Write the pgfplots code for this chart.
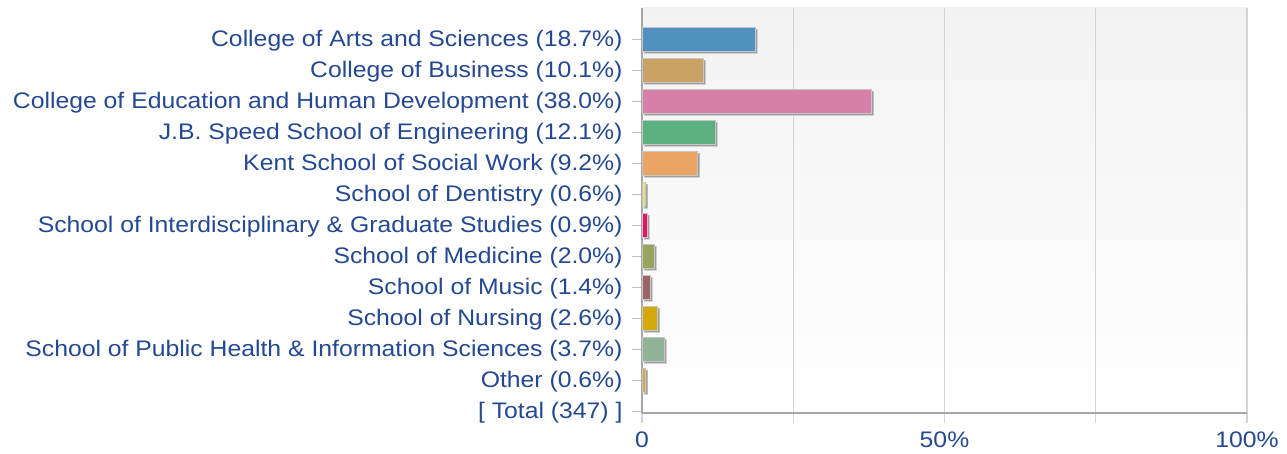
\documentclass[border=0pt]{standalone}
\usepackage{pgfplots}
\pgfplotsset{compat=1.18}
\usepackage{fontspec}
\setmainfont{Liberation Sans}[FakeStretch=1.10]
\usetikzlibrary{shadows}
\definecolor{lab}{RGB}{36,72,145}
\definecolor{c1}{RGB}{81,145,193}
\definecolor{c2}{RGB}{201,162,100}
\definecolor{c3}{RGB}{215,127,169}
\definecolor{c4}{RGB}{90,177,127}
\definecolor{c5}{RGB}{235,164,99}
\definecolor{c6}{RGB}{228,224,122}
\definecolor{c7}{RGB}{230,19,107}
\definecolor{c8}{RGB}{151,165,94}
\definecolor{c9}{RGB}{156,98,102}
\definecolor{c10}{RGB}{212,169,12}
\definecolor{c11}{RGB}{145,179,151}
\definecolor{c12}{RGB}{214,166,64}
\begin{document}
\begin{tikzpicture}
\useasboundingbox (-642pt,-41pt) rectangle (645pt,413pt);
\begin{axis}[
  at={(0,0)}, anchor=south west,
  scale only axis, width=605pt, height=405pt,
  xmin=0, xmax=100, ymin=-0.06, ymax=13,
  xbar, bar width=0.77, bar shift=0pt,
  axis x line=bottom, axis y line=left,
  axis line style={-, draw=black!35, line width=1.3pt},
  axis background/.style={top color=black!5, bottom color=white},
  xtick={0,25,50,75,100},
  xticklabels={0,,50\%,,100\%},
  xmajorgrids, grid style={draw=black!17, line width=1.3pt},
  xtick style={draw=black!17, line width=1.3pt},
  ytick={0,...,12},
  yticklabels={{[ Total (347) ]},
    {Other (0.6\%)},
    {School of Public Health \& Information Sciences (3.7\%)},
    {School of Nursing (2.6\%)},
    {School of Music (1.4\%)},
    {School of Medicine (2.0\%)},
    {School of Interdisciplinary \& Graduate Studies (0.9\%)},
    {School of Dentistry (0.6\%)},
    {Kent School of Social Work (9.2\%)},
    {J.B. Speed School of Engineering (12.1\%)},
    {College of Education and Human Development (38.0\%)},
    {College of Business (10.1\%)},
    {College of Arts and Sciences (18.7\%)}},
  ytick style={draw=black!25, line width=1pt},
  tick align=outside,
  major tick length=10pt,
  ticklabel style={font=\fontsize{22.5}{24}\selectfont, text=lab},
  yticklabel style={xshift=-6pt, yshift=-2pt},
  xticklabel style={yshift=-5pt},
  every axis plot/.append style={draw=white!55!gray, line width=0.8pt,
    drop shadow={shadow xshift=2pt, shadow yshift=-2pt, fill=black!50, opacity=0.75}},
]
\addplot[fill=c1]  coordinates {(18.7,12)};
\addplot[fill=c2]  coordinates {(10.1,11)};
\addplot[fill=c3]  coordinates {(38.0,10)};
\addplot[fill=c4]  coordinates {(12.1,9)};
\addplot[fill=c5]  coordinates {(9.2,8)};
\addplot[fill=c6]  coordinates {(0.6,7)};
\addplot[fill=c7]  coordinates {(0.9,6)};
\addplot[fill=c8]  coordinates {(2.0,5)};
\addplot[fill=c9]  coordinates {(1.4,4)};
\addplot[fill=c10] coordinates {(2.6,3)};
\addplot[fill=c11] coordinates {(3.7,2)};
\addplot[fill=c12] coordinates {(0.6,1)};
\end{axis}
\end{tikzpicture}
\end{document}
